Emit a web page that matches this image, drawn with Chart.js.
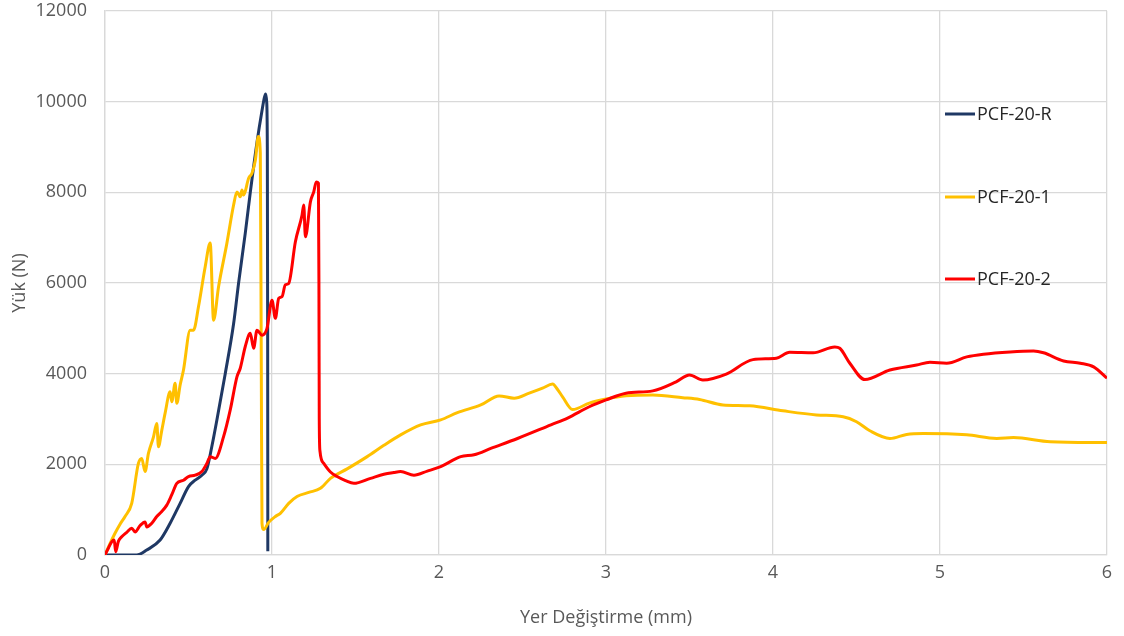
<!DOCTYPE html>
<html>
<head>
<meta charset="utf-8">
<script src="https://cdn.jsdelivr.net/npm/chart.js@4.4.1/dist/chart.umd.min.js"></script>
<style>
  html, body { margin: 0; padding: 0; background: #fff; }
  #wrap { width: 1124px; height: 636px; }
</style>
</head>
<body>
<div id="wrap"><canvas id="loadChart" width="1124" height="636"></canvas></div>
<script>
// series labels
var seriesNames = ["PCF-20-R", "PCF-20-1", "PCF-20-2"];

// PCF-20-R (displacement mm / load N)
var refX = [0, 0.19, 0.25, 0.33, 0.39, 0.45, 0.50, 0.54, 0.58, 0.61, 0.64, 0.67, 0.72, 0.77, 0.80, 0.84, 0.87, 0.91, 0.94, 0.955, 0.962, 0.968, 0.972, 0.974, 0.975];
var refY = [0, 0, 110, 330, 700, 1140, 1510, 1650, 1760, 1900, 2400, 2980, 4000, 5100, 6000, 7100, 8000, 9100, 9800, 10100, 10170, 10000, 9000, 5000, 80];

// PCF-20-1
var s1X = [0, 0.03, 0.06, 0.09, 0.12, 0.16, 0.20, 0.22, 0.24, 0.26, 0.29, 0.31, 0.32, 0.34, 0.36, 0.39, 0.40, 0.42, 0.43, 0.45,
           0.47, 0.51, 0.53, 0.56, 0.60, 0.63, 0.65, 0.68, 0.73, 0.77, 0.79, 0.81, 0.82, 0.83, 0.86, 0.88, 0.90, 0.918, 0.93, 0.936,
           0.94, 0.95, 0.98, 1.02, 1.05, 1.10, 1.15, 1.22, 1.29, 1.35, 1.45, 1.57, 1.67, 1.77, 1.89, 2.01, 2.11, 2.25, 2.36, 2.45,
           2.54, 2.62, 2.68, 2.71, 2.74, 2.80, 2.90, 3.00, 3.12, 3.28, 3.46, 3.56, 3.70, 3.86, 4.06, 4.26, 4.42, 4.50, 4.58, 4.70,
           4.80, 4.90, 5.16, 5.34, 5.44, 5.66, 6.00];
var s1Y = [0, 250, 480, 680, 850, 1140, 2020, 2130, 1840, 2240, 2600, 2900, 2390, 2750, 3130, 3600, 3380, 3790, 3350, 3750,
           4080, 4960, 4960, 5480, 6360, 6880, 5180, 5920, 6880, 7720, 8010, 7900, 8050, 7940, 8310, 8420, 8700, 9230, 8870, 4000,
           700, 560, 720, 850, 920, 1140, 1290, 1380, 1470, 1690, 1900, 2170, 2420, 2650, 2870, 2980, 3140, 3310, 3510, 3460,
           3570, 3680, 3770, 3650, 3490, 3210, 3350, 3440, 3510, 3530, 3470, 3430, 3310, 3290, 3180, 3090, 3050, 2940, 2740, 2570,
           2660, 2680, 2650, 2570, 2590, 2500, 2480];

// PCF-20-2
var s2X = [0, 0.02, 0.04, 0.055, 0.064, 0.08, 0.10, 0.13, 0.16, 0.18, 0.21, 0.24, 0.25, 0.28, 0.31, 0.34, 0.37, 0.40, 0.43, 0.47,
           0.50, 0.54, 0.58, 0.61, 0.63, 0.66, 0.71, 0.75, 0.79, 0.81, 0.84, 0.87, 0.89, 0.91, 0.94, 0.97, 1.00, 1.02, 1.04, 1.06,
           1.08, 1.10, 1.14, 1.18, 1.19, 1.20, 1.23, 1.25, 1.265, 1.278, 1.281, 1.283, 1.287, 1.31, 1.35, 1.39, 1.44, 1.49, 1.59, 1.67,
           1.73, 1.77, 1.85, 1.93, 2.01, 2.13, 2.21, 2.31, 2.47, 2.67, 2.77, 2.90, 3.00, 3.12, 3.28, 3.42, 3.50, 3.58, 3.72, 3.88,
           4.02, 4.10, 4.24, 4.37, 4.40, 4.46, 4.55, 4.70, 4.86, 4.94, 5.04, 5.16, 5.26, 5.42, 5.56, 5.62, 5.74, 5.84, 5.92, 6.00];
var s2Y = [0, 150, 290, 330, 70, 300, 400, 500, 590, 510, 650, 730, 620, 700, 850, 960, 1100, 1330, 1580, 1650,
           1730, 1760, 1840, 2020, 2170, 2130, 2610, 3200, 3930, 4120, 4600, 4890, 4560, 4960, 4850, 5000, 5620, 5220, 5660, 5700,
           5960, 5990, 6910, 7500, 7720, 7020, 7790, 8010, 8230, 8200, 6000, 3000, 2300, 2020, 1830, 1730, 1640, 1580, 1690, 1780,
           1820, 1840, 1760, 1850, 1950, 2170, 2210, 2350, 2570, 2870, 3020, 3270, 3420, 3570, 3620, 3820, 3970, 3860, 3990, 4310,
           4340, 4470, 4460, 4590, 4560, 4230, 3870, 4080, 4190, 4250, 4230, 4370, 4430, 4480, 4500, 4460, 4280, 4230, 4150, 3900];

var colors = ["#1f3864", "#ffc000", "#ff0000"];

function toPoints(xs, ys) {
	var pts = [];
	for (var i = 0; i < xs.length; i++) pts.push({x: xs[i], y: ys[i]});
	return pts;
}

var fontFam = "'Open Sans', sans-serif";
var gridCol = "#d9d9d9";

// legend drawn inside the plot, like the original
var sideLegend = {
	id: "sideLegend",
	afterDraw: function(chart) {
		var ctx = chart.ctx;
		var rows = [114, 197, 279];
		ctx.save();
		ctx.font = "18px " + fontFam;
		ctx.textBaseline = "middle";
		ctx.fillStyle = "#262626";
		chart.data.datasets.forEach(function(ds, i) {
			ctx.strokeStyle = ds.borderColor;
			ctx.lineWidth = 3;
			ctx.beginPath();
			ctx.moveTo(945, rows[i]);
			ctx.lineTo(975, rows[i]);
			ctx.stroke();
			ctx.fillText(ds.label, 977, rows[i] + 1);
		});
		ctx.restore();
	}
};

function noOverflow(s) {
	s.paddingTop = 0;
	s.paddingBottom = 0;
	s.paddingLeft = 0;
	s.paddingRight = 0;
}

var ctx = document.getElementById("loadChart").getContext("2d");
var chart = new Chart(ctx, {
	type: "scatter",
	data: {
		datasets: [
			{label: seriesNames[0], data: toPoints(refX, refY), borderColor: colors[0], order: 3},
			{label: seriesNames[1], data: toPoints(s1X, s1Y), borderColor: colors[1], order: 2},
			{label: seriesNames[2], data: toPoints(s2X, s2Y), borderColor: colors[2], order: 1}
		].map(function(d) {
			d.showLine = true;
			d.borderWidth = 3;
			d.borderJoinStyle = "round";
			d.pointRadius = 0;
			d.pointHoverRadius = 0;
			d.cubicInterpolationMode = "monotone";
			d.fill = false;
			d.backgroundColor = d.borderColor;
			return d;
		})
	},
	options: {
		responsive: false,
		animation: false,
		layout: {padding: {top: 11, right: 17, left: 0, bottom: 0}},
		plugins: {legend: {display: false}, tooltip: {enabled: false}},
		scales: {
			x: {
				type: "linear",
				min: 0, max: 6,
				afterFit: function(s) { s.height = 81; noOverflow(s); },
				ticks: {stepSize: 1, padding: 7, color: "#595959", font: {family: fontFam, size: 18}},
				grid: {color: gridCol, lineWidth: 1.3, drawTicks: false},
				border: {color: gridCol, width: 1.3},
				title: {display: true, text: "Yer Değiştirme (mm)", color: "#595959",
				        font: {family: fontFam, size: 18}, padding: {top: 0, bottom: 7}}
			},
			y: {
				type: "linear",
				min: 0, max: 12000,
				afterFit: function(s) { s.width = 105; noOverflow(s); },
				ticks: {stepSize: 2000, padding: 18, color: "#595959", font: {family: fontFam, size: 18},
				        callback: function(v) { return String(v); }},
				grid: {color: gridCol, lineWidth: 1.3, drawTicks: false},
				border: {color: gridCol, width: 1.3},
				title: {display: true, text: "Yük (N)", color: "#595959",
				        font: {family: fontFam, size: 18}, padding: {top: 9, bottom: 0}}
			}
		}
	},
	plugins: [sideLegend]
});
</script>
</body>
</html>
